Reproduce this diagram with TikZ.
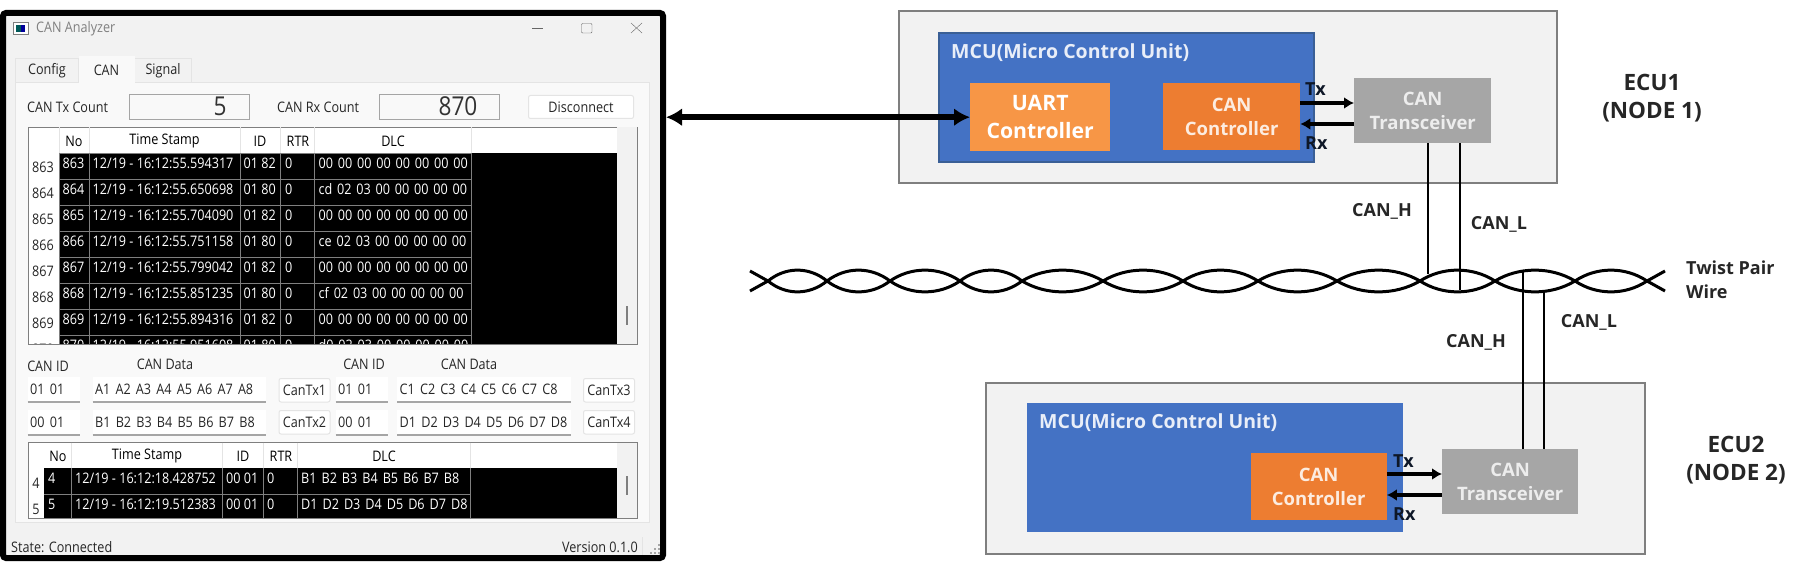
\documentclass[tikz,border=0pt]{standalone}
\usepackage{fontspec}
\setmainfont{Open Sans}
\newfontfamily\uifont[FakeStretch=0.87]{Open Sans}
\newfontfamily\blockfont{Open Sans}
\usetikzlibrary{arrows.meta}

\definecolor{winbg}{HTML}{F2F2F2}
\definecolor{panebg}{HTML}{F9F9F9}
\definecolor{tabline}{HTML}{E4E4E4}
\definecolor{gridgray}{HTML}{7F7F7F}
\definecolor{uiink}{HTML}{262626}
\definecolor{ecubg}{HTML}{F2F2F2}
\definecolor{mcublue}{HTML}{4472C4}
\definecolor{mcuedge}{HTML}{3A5F96}
\definecolor{uartorange}{HTML}{F79646}
\definecolor{canorange}{HTML}{ED7D31}
\definecolor{transgray}{HTML}{A6A6A6}

\tikzset{
  uitext/.style={font=\uifont\fontsize{14.5}{16}\selectfont, text=uiink, inner sep=0pt},
  celltext/.style={uitext, text=white, anchor=west},
  headtext/.style={uitext, text=black},
  uibox/.style={draw=tabline, fill=white, rounded corners=2pt, line width=1pt, anchor=north west, inner sep=0pt},
  inputbox/.style={uitext, fill=white, anchor=north west, inner xsep=2.5pt, inner ysep=0pt, minimum height=24.5pt, align=left},
  tablebox/.style={draw=gridgray, fill=white, line width=1pt, anchor=north west, inner sep=0pt},
  lcdbox/.style={draw=gridgray!70, fill=panebg, line width=1pt, anchor=north west, inner sep=0pt, minimum width=120pt, minimum height=25pt},
  ecubox/.style={draw=gridgray, fill=ecubg, line width=1.8pt, anchor=north west, inner sep=0pt},
  mcubox/.style={fill=mcublue, anchor=north west, inner sep=0pt},
  blockbox/.style={anchor=north west, inner sep=0pt, align=center, text=white, font=\blockfont\bfseries\fontsize{18.5}{23.5}\selectfont},
  mcutext/.style={anchor=west, inner sep=0pt, text=white!88!mcublue, font=\blockfont\bfseries\fontsize{19.5}{22}\selectfont},
  sigtext/.style={inner sep=0pt, text=black!85, font=\blockfont\bfseries\fontsize{18}{24}\selectfont},
  ecutext/.style={inner sep=0pt, align=center, text=black!85, font=\blockfont\bfseries\fontsize{22.5}{28}\selectfont},
  sigarrow/.style={arrows={-Latex[length=10pt,width=12pt]}, line width=3.2pt},
  bigarrow/.style={arrows={Latex[length=16pt,width=18pt]-Latex[length=16pt,width=18pt]}, line width=5.5pt},
  wire/.style={line width=2.8pt},
  twist/.style={line width=3pt}
}

\begin{document}
\begin{tikzpicture}[x=1pt, y=-1pt]
  \useasboundingbox (0,0) rectangle (1797,567);

  % application window
  \node [draw=black, fill=winbg, line width=6pt, rounded corners=3pt, anchor=north west, inner sep=0pt,
         minimum width=660pt, minimum height=545pt] (window) at (0,10) {};
  \fill [gridgray] (13,22) rectangle (29,35);
  \fill [white] (14,23) rectangle (28,34);
  \fill [teal!70!black] (16,25) rectangle (21,32);
  \fill [blue!60!black] (21,25) rectangle (25,32);
  \node [uitext, anchor=west, text=gray] (title) at (36,29) {CAN Analyzer};
  \draw [gray!80!black] (532,28.5) -- (543,28.5);
  \draw [gray!80!black, rounded corners=1pt] (581.5,23.5) rectangle (592,33);
  \draw [gray!80!black] (631,23) -- (642,33) (642,23) -- (631,33);

  % tabs and pane
  \node [uibox, fill=panebg, rounded corners=0pt, minimum width=634pt, minimum height=440pt] (pane) at (15,82) {};
  \node [uibox, uitext, fill=winbg, rounded corners=0pt, minimum width=63pt, minimum height=24pt] (tabconfig) at (15,58) {Config};
  \node [uibox, uitext, fill=winbg, rounded corners=0pt, minimum width=57pt, minimum height=24pt] (tabsignal) at (134,58) {Signal};
  \node [uibox, uitext, draw=none, fill=panebg, rounded corners=0pt, minimum width=56pt, minimum height=27pt] (tabcan) at (78,56) {CAN};

  % counters
  \node [uitext, anchor=west] (txlabel) at (27,107) {CAN Tx Count};
  \node [uitext, anchor=west] (rxlabel) at (277,107) {CAN Rx Count};
  \node [lcdbox] (txlcd) at (129,94) {};
  \node [lcdbox] (rxlcd) at (379,94) {};
  \node [uitext, font=\uifont\fontsize{26}{26}\selectfont, text=black!80] (txcount) at (220,106.5) {5};
  \node [uitext, font=\uifont\fontsize{26}{26}\selectfont, text=black!80] (rxcount) at (458,106.5) {870};
  \node [uibox, uitext, minimum width=105pt, minimum height=23pt] (disconnect) at (528,95) {Disconnect};

  % upper table
  \node [tablebox, minimum width=609.5pt, minimum height=217pt] (tableA) at (27.5,127) {};
  \fill [winbg] (617,127.5) rectangle (636.5,343.5);
  \fill [black] (59,153) rectangle (617,343.5);
  \fill [gridgray] (626,306) rectangle (628,325);
  \foreach \colx in {59,89,240,280.5,314.6,471}{
    \draw [tabline] (\colx,127.5) -- (\colx,153);
    \draw [gridgray] (\colx,153) -- (\colx,343.5);
  }
  \foreach \colx / \colname / \coltext in {74/no/No, 164.5/time/Time Stamp, 260/id/ID, 298/rtr/RTR, 393/dlc/DLC}{
    \node [headtext] (headA\colname) at (\colx,141) {\coltext};
  }
  \begin{scope}
    \clip (27.5,127) rectangle (637,343.5);
    \foreach \rowy / \rowno / \stamp / \canid / \dlc in {
      153/863/55.594317/01 82/00 00 00 00 00 00 00 00,
      179/864/55.650698/01 80/cd 02 03 00 00 00 00 00,
      205/865/55.704090/01 82/00 00 00 00 00 00 00 00,
      231/866/55.751158/01 80/ce 02 03 00 00 00 00 00,
      257/867/55.799042/01 82/00 00 00 00 00 00 00 00,
      283/868/55.851235/01 80/cf 02 03 00 00 00 00 00,
      309/869/55.894316/01 82/00 00 00 00 00 00 00 00,
      335/870/55.951608/01 80/d0 02 03 00 00 00 00 00}{
      \draw [gridgray] (59,\rowy) -- (471,\rowy);
      \node [uitext] (rownum\rowno) at (43,{\rowy+14}) {\rowno};
      \node [celltext] (no\rowno) at (62.5,{\rowy+10}) {\rowno};
      \node [celltext] (time\rowno) at (92.5,{\rowy+10}) {12/19 - 16:12:\stamp};
      \node [celltext] (id\rowno) at (243.5,{\rowy+10}) {\canid};
      \node [celltext] (rtr\rowno) at (285,{\rowy+10}) {0};
      \node [celltext] (dlc\rowno) at (318.5,{\rowy+10}) {\spaceskip=4.8pt \dlc};
    }
  \end{scope}

  % send fields
  \node [uitext] (idlabelA) at (48,366) {CAN ID};
  \node [uitext] (datalabelA) at (165,364) {CAN Data};
  \node [uitext] (idlabelB) at (364,364) {CAN ID};
  \node [uitext] (datalabelB) at (469,364) {CAN Data};
  \foreach \fname / \fx / \fy / \fw / \ftext in {
      idA/27.5/377/47.5/01 01, dataA/92.5/377/168.5/A1 A2 A3 A4 A5 A6 A7 A8,
      idB/335.5/377/47.5/01 01, dataB/397/377/169/C1 C2 C3 C4 C5 C6 C7 C8,
      idC/27.5/410/47.5/00 01, dataC/92.5/410/168.5/B1 B2 B3 B4 B5 B6 B7 B8,
      idD/335.5/410/47.5/00 01, dataD/397/410/169/D1 D2 D3 D4 D5 D6 D7 D8}{
    \node [inputbox, text width=\fw pt] (\fname) at (\fx,\fy) {\spaceskip=5.2pt \ftext};
    \draw [gridgray!70, line width=1.2pt] (\fname.south west) -- (\fname.south east);
  }
  \foreach \bname / \bx / \by / \btext in {
      cantxA/278.5/378/CanTx1, cantxB/278.5/410/CanTx2,
      cantxC/583/378/CanTx3, cantxD/583/410/CanTx4}{
    \node [uibox, uitext, minimum width=51pt, minimum height=23.5pt] (\bname) at (\bx,\by) {\btext};
  }

  % lower table
  \node [tablebox, minimum width=609.5pt, minimum height=76pt] (tableB) at (27.5,442) {};
  \fill [winbg] (617,442.5) rectangle (636.5,517.5);
  \fill [black] (44,468) rectangle (617,517.5);
  \fill [gridgray] (626,476) rectangle (628,495);
  \foreach \colx in {71,222,263,297,470}{
    \draw [tabline] (\colx,442.5) -- (\colx,468);
    \draw [gridgray] (\colx,468) -- (\colx,517.5);
  }
  \draw [gridgray] (44,494) -- (470,494);
  \foreach \colx / \colname / \coltext in {58/no/No, 147/time/Time Stamp, 243/id/ID, 281/rtr/RTR, 384/dlc/DLC}{
    \node [headtext] (headB\colname) at (\colx,456) {\coltext};
  }
  \foreach \rowy / \rowno / \stamp / \dlc in {
      478/4/18.428752/B1 B2 B3 B4 B5 B6 B7 B8,
      504/5/19.512383/D1 D2 D3 D4 D5 D6 D7 D8}{
    \node [uitext] (rownumB\rowno) at (36,{\rowy+5}) {\rowno};
    \node [celltext] (noB\rowno) at (48,\rowy) {\rowno};
    \node [celltext] (timeB\rowno) at (75,\rowy) {12/19 - 16:12:\stamp};
    \node [celltext] (idB\rowno) at (226,\rowy) {00 01};
    \node [celltext] (rtrB\rowno) at (267,\rowy) {0};
    \node [celltext] (dlcB\rowno) at (301,\rowy) {\spaceskip=5pt \dlc};
  }

  % status bar
  \node [uitext, anchor=west] (state) at (11,547) {State: Connected};
  \node [uitext, anchor=east] (version) at (638,547) {Version 0.1.0};
  \draw [tabline] (642,537) -- (642,555);
  \foreach \px / \py in {658/546, 654/550, 658/550, 650/554, 654/554, 658/554}{
    \fill [gray!70] (\px,\py) rectangle ++(2,-2);
  }

  % ECU 1
  \node [ecubox, minimum width=658pt, minimum height=172pt] (ecuA) at (898,10) {};
  \node [mcubox, draw=mcuedge, line width=2.4pt, minimum width=375pt, minimum height=128.6pt] (mcuA) at (937.5,32) {};
  \node [mcutext] (mcutextA) at (951,53) {MCU(Micro Control Unit)};
  \node [blockbox, fill=uartorange, minimum width=140pt, minimum height=68pt, font=\blockfont\bfseries\fontsize{21.2}{28}\selectfont] (uartA) at (970,83) {UART\\Controller};
  \node [blockbox, fill=canorange, text=white!85!canorange, minimum width=137pt, minimum height=67pt] (canA) at (1163,83) {CAN\\Controller};
  \node [blockbox, fill=transgray, text=white!80!transgray, minimum width=137pt, minimum height=65pt] (transA) at (1354,78) {CAN\\Transceiver};
  \node [sigtext, anchor=west, text=black!80!mcublue] (txA) at (1305,89) {Tx};
  \node [sigtext, anchor=west, text=black!80!mcublue] (rxA) at (1305,143) {Rx};
  \coordinate (txlineA) at (1330,103);
  \coordinate (rxlineA) at (1330,124);
  \draw [sigarrow] (txlineA -| canA.east) -- (txlineA -| transA.west);
  \draw [sigarrow] (rxlineA -| transA.west) -- (rxlineA -| canA.east);
  \node [ecutext] (ecuAlabel) at (1652,98) {ECU1\\(NODE 1)};

  % ECU 2
  \node [ecubox, minimum width=659pt, minimum height=171pt] (ecuB) at (985,382) {};
  \node [mcubox, minimum width=375.5pt, minimum height=129pt] (mcuB) at (1027,403) {};
  \node [mcutext] (mcutextB) at (1039,423) {MCU(Micro Control Unit)};
  \node [blockbox, fill=canorange, text=white!85!canorange, minimum width=136pt, minimum height=67pt] (canB) at (1250.5,453) {CAN\\Controller};
  \node [blockbox, fill=transgray, text=white!80!transgray, minimum width=136pt, minimum height=65pt] (transB) at (1442,449) {CAN\\Transceiver};
  \node [sigtext, anchor=west, text=black!80!mcublue] (txB) at (1393,461) {Tx};
  \node [sigtext, anchor=west, text=black!80!mcublue] (rxB) at (1393,514) {Rx};
  \coordinate (txlineB) at (1420,474);
  \coordinate (rxlineB) at (1420,495);
  \draw [sigarrow] (txlineB -| canB.east) -- (txlineB -| transB.west);
  \draw [sigarrow] (rxlineB -| transB.west) -- (rxlineB -| canB.east);
  \node [ecutext] (ecuBlabel) at (1736,460) {ECU2\\(NODE 2)};

  % link to the analyzer
  \draw [bigarrow] (uartA.west -| window.east) -- (uartA.west);

  % twisted pair
  \foreach \xa / \xb in {768/827, 827/890, 890/960, 960/1022, 1022/1103, 1103/1183, 1183/1258,
                         1258/1337, 1337/1420, 1420/1495, 1495/1575, 1575/1647}{
    \draw [twist] (\xa,281) .. controls ({\xa+0.3*(\xb-\xa)},266.5) and ({\xb-0.3*(\xb-\xa)},266.5) .. (\xb,281);
    \draw [twist] (\xa,281) .. controls ({\xa+0.3*(\xb-\xa)},295.5) and ({\xb-0.3*(\xb-\xa)},295.5) .. (\xb,281);
  }
  \draw [twist] (750,271) -- (768,281) -- (750,291);
  \draw [twist] (1665,271) -- (1647,281) -- (1665,291);
  \node [sigtext, anchor=west, align=left] (twistlabel) at (1686,280) {Twist Pair\\Wire};

  % bus stubs
  \coordinate (highA) at (1428,274);
  \coordinate (lowA) at (1460,290);
  \coordinate (highB) at (1523,271);
  \coordinate (lowB) at (1544,290);
  \draw [wire] (highA |- transA.south) -- (highA);
  \draw [wire] (lowA |- transA.south) -- (lowA);
  \draw [wire] (highB) -- (highB |- transB.north);
  \draw [wire] (lowB) -- (lowB |- transB.north);
  \node [sigtext] (highAlabel) at (1382,211) {CAN\_H};
  \node [sigtext] (lowAlabel) at (1499,224) {CAN\_L};
  \node [sigtext] (highBlabel) at (1476,342) {CAN\_H};
  \node [sigtext] (lowBlabel) at (1589,322) {CAN\_L};
\end{tikzpicture}
\end{document}
